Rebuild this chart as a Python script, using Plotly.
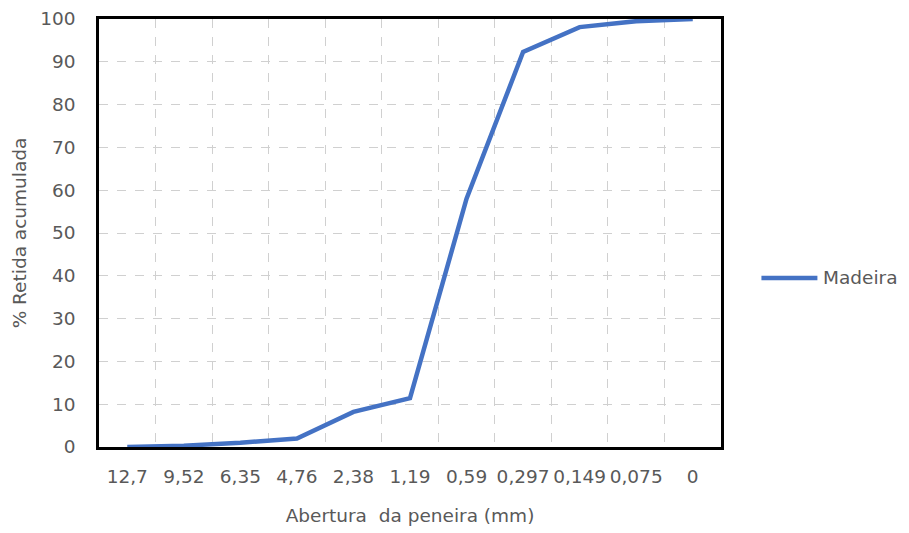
import plotly.graph_objects as go

# Sieve openings (mm) and cumulative retained percentage
aberturas = ["12,7", "9,52", "6,35", "4,76", "2,38", "1,19", "0,59", "0,297", "0,149", "0,075", "0"]
retida_acumulada = [0.0, 0.3, 1.0, 2.0, 8.2, 11.4, 58.0, 92.3, 98.1, 99.5, 100.0]

serie_nome = "Madeira"
y_ticks = list(range(0, 101, 10))

cor_linha = "#4472C4"
cor_texto = "#595959"
cor_grade = "#D0D0D0"
fonte = "DejaVu Sans"
tam = 18.5

fig = go.Figure()
fig.add_trace(go.Scatter(
    x=aberturas,
    y=retida_acumulada,
    mode="lines",
    name=serie_nome,
    line=dict(color=cor_linha, width=4.5),
    cliponaxis=False,
    showlegend=False,
))

fig.update_layout(
    width=909,
    height=533,
    margin=dict(l=99, r=188, t=19, b=86),
    paper_bgcolor="white",
    plot_bgcolor="white",
    font=dict(family=fonte, size=tam, color=cor_texto),
    xaxis=dict(
        type="category",
        range=[-0.5, len(aberturas) - 0.5],
        tickson="boundaries",
        tickangle=0,
        showgrid=True,
        gridcolor=cor_grade,
        griddash="dash",
        gridwidth=1,
        ticks="",
        ticklabelstandoff=11,
        showline=True,
        linecolor="black",
        linewidth=2.5,
        mirror=True,
        automargin=False,
        title=dict(text="Abertura  da peneira (mm)", standoff=24,
                   font=dict(family=fonte, size=tam, color=cor_texto)),
    ),
    yaxis=dict(
        range=[0, 100],
        tickvals=y_ticks,
        showgrid=True,
        gridcolor=cor_grade,
        griddash="dash",
        gridwidth=1,
        ticks="",
        ticklabelstandoff=17,
        showline=True,
        linecolor="black",
        linewidth=2.5,
        mirror=True,
        zeroline=False,
        automargin=False,
        title=dict(text="% Retida acumulada", standoff=9,
                   font=dict(family=fonte, size=tam, color=cor_texto)),
    ),
)

# Legend: line sample and series name at the right of the plot area
fig.add_shape(type="line", xref="paper", yref="paper",
              x0=1.065, x1=1.155, y0=0.395, y1=0.395,
              line=dict(color=cor_linha, width=4.5))
fig.add_annotation(x=1.16, y=0.395, xref="paper", yref="paper",
                   text=serie_nome, showarrow=False, xanchor="left", yanchor="middle",
                   font=dict(family=fonte, size=tam, color=cor_texto))

fig.write_html("out.html")
